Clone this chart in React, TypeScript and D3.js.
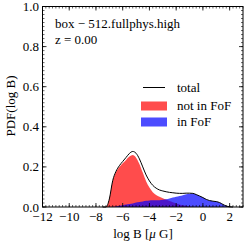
import React from "react";
import * as d3 from "d3";

const xGrid = [-7.5, -7.25, -7.0, -6.75, -6.5, -6.25, -6.0, -5.75, -5.5, -5.25, -5.0, -4.75, -4.5, -4.25, -4.0, -3.75, -3.5, -3.25, -3.0, -2.75, -2.5, -2.25, -2.0, -1.75, -1.5, -1.25, -1.0, -0.75, -0.5, -0.25, 0.0, 0.25, 0.5, 0.75, 1.0, 1.25, 1.5, 1.75, 2.0, 2.25];
const notInFoF = [0, 0, 0.04, 0.13, 0.175, 0.2, 0.218, 0.235, 0.252, 0.259, 0.246, 0.215, 0.172, 0.129, 0.097, 0.074, 0.06, 0.051, 0.044, 0.037, 0.03, 0.024, 0.018, 0.013, 0.009, 0.006, 0.003, 0.001, 0, 0, 0, 0, 0, 0, 0, 0, 0, 0, 0, 0];
const inFoF = [0, 0, 0, 0.001, 0.003, 0.006, 0.009, 0.012, 0.015, 0.018, 0.022, 0.025, 0.028, 0.031, 0.033, 0.034, 0.034, 0.034, 0.036, 0.039, 0.043, 0.047, 0.051, 0.055, 0.059, 0.063, 0.066, 0.067, 0.062, 0.055, 0.047, 0.038, 0.032, 0.029, 0.027, 0.022, 0.013, 0.005, 0.001, 0];
const xTicks = [-12, -10, -8, -6, -4, -2, 0, 2];
const yTicks = [0.0, 0.2, 0.4, 0.6, 0.8, 1.0];
const legendLabels = ["total", "not in FoF", "in FoF"];
const titleLines = ["box \u2212 512.fullphys.high", "z = 0.00"];

const L = 42.5, R = 243, T = 6.5, B = 207;
const font = "'Liberation Serif', 'DejaVu Serif', serif";

export default function App() {
  const x = d3.scaleLinear().domain([-12, 3]).range([L, R]);
  const y = d3.scaleLinear().domain([0, 1]).range([B, T]);
  const total = notInFoF.map((v, i) => v + inFoF[i]);
  const area = (vals: number[]) =>
    d3.area<number>().x((_, i) => x(xGrid[i])).y0(y(0)).y1((d) => y(d)).curve(d3.curveMonotoneX)(vals) || "";
  const line = d3.line<number>().x((_, i) => x(xGrid[i])).y((d) => y(d)).curve(d3.curveMonotoneX)(total) || "";
  const fmtMinus = (v: number) => (v < 0 ? "\u2212" + Math.abs(v) : String(v));

  const xMinor = d3.range(-12, 3.001, 0.25);
  const yMinor = d3.range(0, 1.001, 0.02);

  return (
    <svg width={250} height={250} style={{ position: "absolute", left: 0, top: 0, background: "#fff" }} fontFamily={font}>
      <rect x={0} y={0} width={250} height={250} fill="#fff" />
      <path d={area(notInFoF)} fill="#ff0000" fillOpacity={0.7} />
      <path d={area(inFoF)} fill="#0000ff" fillOpacity={0.7} />
      <path d={line} fill="none" stroke="#000" strokeWidth={1} />
      {/* minor ticks */}
      {xMinor.map((v, i) => (
        <g key={"xm" + i} stroke="#000" strokeWidth={0.6}>
          <line x1={x(v)} x2={x(v)} y1={B} y2={B - 2} />
          <line x1={x(v)} x2={x(v)} y1={T} y2={T + 2} />
        </g>
      ))}
      {yMinor.map((v, i) => (
        <g key={"ym" + i} stroke="#000" strokeWidth={0.6}>
          <line x1={L} x2={L + 2} y1={y(v)} y2={y(v)} />
          <line x1={R} x2={R - 2} y1={y(v)} y2={y(v)} />
        </g>
      ))}
      {xTicks.map((v) => (
        <g key={"x" + v}>
          <line x1={x(v)} x2={x(v)} y1={B} y2={B - 4} stroke="#000" strokeWidth={0.8} />
          <line x1={x(v)} x2={x(v)} y1={T} y2={T + 4} stroke="#000" strokeWidth={0.8} />
          <text x={x(v)} y={221} textAnchor="middle" fontSize={13}>{fmtMinus(v)}</text>
        </g>
      ))}
      {yTicks.map((v) => (
        <g key={"y" + v}>
          <line x1={L} x2={L + 4} y1={y(v)} y2={y(v)} stroke="#000" strokeWidth={0.8} />
          <line x1={R} x2={R - 4} y1={y(v)} y2={y(v)} stroke="#000" strokeWidth={0.8} />
          <text x={39} y={y(v) + 4.5} textAnchor="end" fontSize={13}>{v.toFixed(1)}</text>
        </g>
      ))}
      <rect x={L} y={T} width={R - L} height={B - T} fill="none" stroke="#000" strokeWidth={1} />
      <text x={55} y={28} fontSize={13}>{titleLines[0]}</text>
      <text x={55} y={44} fontSize={13}>{titleLines[1]}</text>
      {/* legend */}
      <line x1={143} x2={165} y1={87.5} y2={87.5} stroke="#000" strokeWidth={1} />
      <text x={177} y={92} fontSize={13}>{legendLabels[0]}</text>
      <rect x={141} y={101.5} width={26} height={9} fill="#ff0000" fillOpacity={0.7} />
      <text x={177} y={110} fontSize={13}>{legendLabels[1]}</text>
      <rect x={141} y={117.5} width={26} height={9} fill="#0000ff" fillOpacity={0.7} />
      <text x={177} y={126} fontSize={13}>{legendLabels[2]}</text>
      <text transform="translate(15,106) rotate(-90)" textAnchor="middle" fontSize={13}>PDF(log B)</text>
      <text x={143} y={238} textAnchor="middle" fontSize={13}>
        log B [<tspan fontStyle="italic">μ</tspan> G]
      </text>
    </svg>
  );
}
